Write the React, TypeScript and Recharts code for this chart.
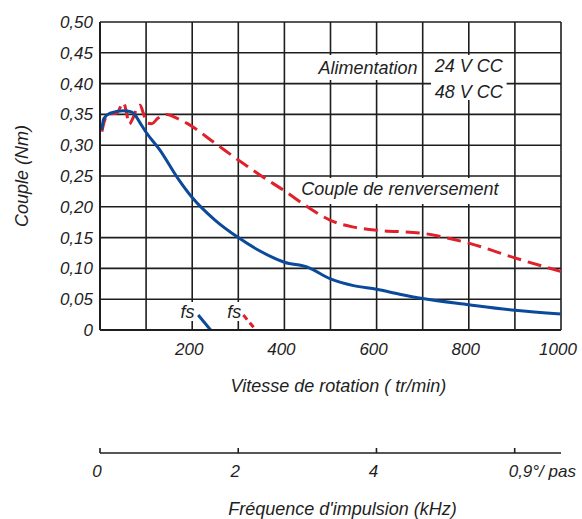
import React from "react";
import {
  LineChart,
  Line,
  XAxis,
  YAxis,
  CartesianGrid,
  ReferenceArea,
} from "recharts";

// rotation speed (tr/min) ticks and torque (Nm) ticks
const rpmTicks = [0, 100, 200, 300, 400, 500, 600, 700, 800, 900, 1000];
const torqueTicks = [0, 0.05, 0.1, 0.15, 0.2, 0.25, 0.3, 0.35, 0.4, 0.45, 0.5];

// pulse frequency axis (kHz), 0,9° per step -> 1000 tr/min = 6,67 kHz
const freqExtent = [{ khz: 0 }, { khz: 6.67 }];
const freqTicks = [0, 2, 4, 6];
const freqLabels = ["0", "2", "4", "0,9°/ pas"];

// 24 V CC (blue, solid)
const torque24 = [
  { rpm: 4, nm: 0.325 },
  { rpm: 8, nm: 0.343 },
  { rpm: 22, nm: 0.352 },
  { rpm: 50, nm: 0.356 },
  { rpm: 68, nm: 0.354 },
  { rpm: 78, nm: 0.347 },
  { rpm: 88, nm: 0.335 },
  { rpm: 100, nm: 0.321 },
  { rpm: 130, nm: 0.292 },
  { rpm: 170, nm: 0.245 },
  { rpm: 200, nm: 0.215 },
  { rpm: 250, nm: 0.178 },
  { rpm: 300, nm: 0.15 },
  { rpm: 350, nm: 0.127 },
  { rpm: 400, nm: 0.11 },
  { rpm: 450, nm: 0.102 },
  { rpm: 500, nm: 0.083 },
  { rpm: 550, nm: 0.072 },
  { rpm: 600, nm: 0.066 },
  { rpm: 650, nm: 0.058 },
  { rpm: 700, nm: 0.051 },
  { rpm: 800, nm: 0.041 },
  { rpm: 900, nm: 0.032 },
  { rpm: 1000, nm: 0.026 },
];

// 48 V CC (red, dashed)
const torque48 = [
  { rpm: 4, nm: 0.322 },
  { rpm: 11, nm: 0.342 },
  { rpm: 22, nm: 0.351 },
  { rpm: 36, nm: 0.352 },
  { rpm: 51, nm: 0.369 },
  { rpm: 57, nm: 0.355 },
  { rpm: 63, nm: 0.334 },
  { rpm: 72, nm: 0.345 },
  { rpm: 80, nm: 0.36 },
  { rpm: 87, nm: 0.365 },
  { rpm: 94, nm: 0.352 },
  { rpm: 102, nm: 0.336 },
  { rpm: 112, nm: 0.335 },
  { rpm: 126, nm: 0.344 },
  { rpm: 145, nm: 0.35 },
  { rpm: 160, nm: 0.346 },
  { rpm: 190, nm: 0.335 },
  { rpm: 250, nm: 0.303 },
  { rpm: 300, nm: 0.276 },
  { rpm: 350, nm: 0.25 },
  { rpm: 400, nm: 0.226 },
  { rpm: 450, nm: 0.2 },
  { rpm: 500, nm: 0.178 },
  { rpm: 550, nm: 0.167 },
  { rpm: 600, nm: 0.162 },
  { rpm: 700, nm: 0.157 },
  { rpm: 750, nm: 0.15 },
  { rpm: 800, nm: 0.141 },
  { rpm: 900, nm: 0.117 },
  { rpm: 1000, nm: 0.095 },
];

// start frequency (fs) segments
const fs24 = [
  { rpm: 213, nm: 0.0244 },
  { rpm: 240, nm: 0 },
];
const fs48 = [
  { rpm: 311, nm: 0.0244 },
  { rpm: 338, nm: 0 },
];

const FONT = "'Liberation Sans', Arial, Helvetica, sans-serif";
const INK = "#1e1e1e";
const BLUE = "#0b4a9a";
const RED = "#e0212b";

const tickStyle = {
  fontFamily: FONT,
  fontStyle: "italic",
  fontSize: 17,
  fill: INK,
};

const textProps = {
  fill: INK,
  fontSize: 18,
  fontStyle: "italic",
  fontFamily: FONT,
};

const noteLabel = (value: string, dy = 0) => ({
  value,
  position: "center" as const,
  ...textProps,
  dy,
});

const FreqTick = (props: any) => {
  const { x, y, payload } = props;
  const i = freqTicks.indexOf(payload.value);
  const last = i === freqTicks.length - 1;
  return (
    <text
      x={last ? x - 6 : x - 3}
      y={y}
      dy="0.71em"
      textAnchor={last ? "start" : "middle"}
      style={tickStyle}
    >
      {freqLabels[i]}
    </text>
  );
};

export default function App() {
  return (
    <div
      style={{
        position: "absolute",
        left: 0,
        top: 0,
        width: 582,
        height: 519,
        background: "#fff",
      }}
    >
      <LineChart
        width={582}
        height={519}
        data={freqExtent}
        margin={{ top: 22, right: 21, bottom: 0, left: 0 }}
      >
        <CartesianGrid stroke={INK} strokeWidth={1.6} />
        <XAxis
          dataKey="rpm"
          type="number"
          domain={[0, 1000]}
          allowDataOverflow
          ticks={rpmTicks}
          interval={0}
          height={123}
          tickLine={false}
          tickSize={0}
          tickMargin={13}
          tick={{ ...tickStyle, dx: -3 }}
          tickFormatter={(v: number) => (v > 0 && v % 200 === 0 ? String(v) : "")}
          axisLine={{ stroke: INK, strokeWidth: 2 }}
          label={{
            value: "Vitesse de rotation ( tr/min)",
            position: "insideTop",
            offset: 49,
            dx: 8,
            ...textProps,
          }}
        />
        <XAxis
          xAxisId="freq"
          dataKey="khz"
          type="number"
          domain={[0, 6.67]}
          allowDataOverflow
          ticks={freqTicks}
          interval={0}
          height={66}
          tickSize={-5}
          tickMargin={17}
          tickLine={{ stroke: INK, strokeWidth: 1.6 }}
          tick={<FreqTick />}
          axisLine={{ stroke: INK, strokeWidth: 1.6 }}
          label={{
            value: "Fréquence d'impulsion (kHz)",
            position: "insideTop",
            offset: 49,
            dx: 12,
            ...textProps,
          }}
        />
        <YAxis
          type="number"
          domain={[0, 0.5]}
          ticks={torqueTicks}
          interval={0}
          width={100}
          tickLine={false}
          tickSize={0}
          tickMargin={7}
          tick={tickStyle}
          tickFormatter={(v: number) => (v === 0 ? "0" : v.toFixed(2).replace(".", ","))}
          axisLine={{ stroke: INK, strokeWidth: 2 }}
          label={{
            value: "Couple (Nm)",
            angle: -90,
            position: "insideLeft",
            offset: 16,
            dx: 6,
            ...textProps,
            style: { textAnchor: "middle" },
          }}
        />

        <ReferenceArea
          x1={473}
          x2={690}
          y1={0.406}
          y2={0.4464}
          fill="#fff"
          fillOpacity={1}
          stroke="none"
          label={noteLabel("Alimentation")}
        />
        <ReferenceArea
          x1={718}
          x2={882}
          y1={0.4091}
          y2={0.4464}
          fill="#fff"
          fillOpacity={1}
          stroke="none"
          label={noteLabel("24 V CC", -1)}
        />
        <ReferenceArea
          x1={718}
          x2={882}
          y1={0.3734}
          y2={0.4091}
          fill="#fff"
          fillOpacity={1}
          stroke="none"
          label={noteLabel("48 V CC", 3)}
        />
        <ReferenceArea
          x1={440}
          x2={861}
          y1={0.2045}
          y2={0.2468}
          fill="#fff"
          fillOpacity={1}
          stroke="none"
          label={noteLabel("Couple de renversement", -2)}
        />
        <ReferenceArea
          x1={170}
          x2={210}
          y1={0.0146}
          y2={0.0455}
          fill="#fff"
          fillOpacity={1}
          stroke="none"
          label={noteLabel("fs")}
        />
        <ReferenceArea
          x1={272}
          x2={311}
          y1={0.0146}
          y2={0.0455}
          fill="#fff"
          fillOpacity={1}
          stroke="none"
          label={noteLabel("fs")}
        />

        <Line
          data={torque48}
          dataKey="nm"
          type="monotone"
          stroke={RED}
          strokeWidth={3}
          strokeDasharray="14 7"
          dot={false}
          isAnimationActive={false}
        />
        <Line
          data={torque24}
          dataKey="nm"
          type="monotone"
          stroke={BLUE}
          strokeWidth={3}
          dot={false}
          isAnimationActive={false}
        />
        <Line
          data={fs24}
          dataKey="nm"
          type="linear"
          stroke={BLUE}
          strokeWidth={3}
          dot={false}
          isAnimationActive={false}
        />
        <Line
          data={fs48}
          dataKey="nm"
          type="linear"
          stroke={RED}
          strokeWidth={3}
          strokeDasharray="6 4"
          dot={false}
          isAnimationActive={false}
        />
      </LineChart>
    </div>
  );
}
